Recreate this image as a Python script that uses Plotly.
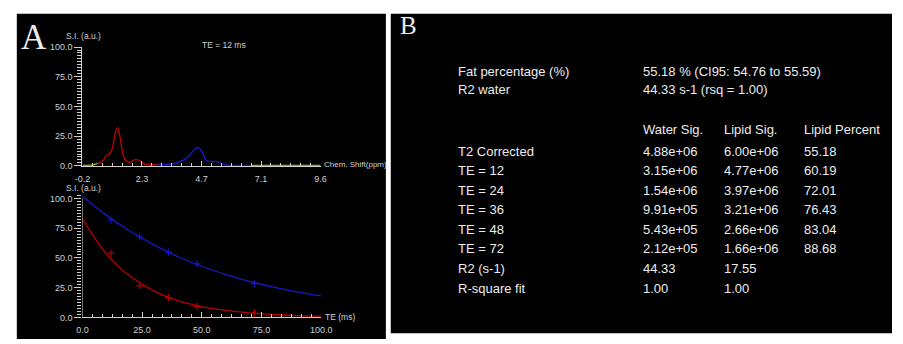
import plotly.graph_objects as go

W, H = 903, 344

# ---------------- Panel A (top): spectrum at TE = 12 ms ----------------
spec_left_ppm = [-0.2, 0.1, 0.3, 0.43]
spec_left_si = [0.3, 0.6, 1.2, 2.0]

spec_red_ppm = [0.43, 0.63, 0.79, 0.93, 1.04, 1.14, 1.24, 1.33, 1.44, 1.57, 1.74, 2.0, 2.18, 2.38, 2.6, 2.92]
spec_red_si = [2.0, 4.1, 8.7, 10.6, 15.5, 26.5, 32.4, 26.5, 12.8, 4.7, 3.0, 5.5, 4.1, 1.4, 1.1, 1.1]

spec_blue_ppm = [2.92, 3.3, 3.59, 4.0, 4.26, 4.46, 4.6, 4.73, 4.87, 5.07, 5.27, 5.47, 5.74, 6.2, 6.75]
spec_blue_si = [1.0, 1.2, 2.0, 5.2, 10.1, 14.7, 15.0, 11.4, 5.2, 3.6, 3.8, 2.5, 0.5, 0.4, 0.4]

spec_right_ppm = [6.75, 7.5, 8.5, 9.6]
spec_right_si = [0.4, 0.4, 0.4, 0.4]

spec_xticks = [-0.2, 2.25, 4.7, 7.15, 9.6]
spec_xticklabels = ["-0.2", "2.3", "4.7", "7.1", "9.6"]

# ---------------- Panel A (bottom): T2 decay ----------------
te_meas = [12, 24, 36, 48, 72]
blue_meas = [81.7, 67.6, 54.7, 45.0, 28.3]
red_meas = [54.0, 26.5, 16.6, 9.3, 3.6]

te_fit = [0, 10, 20, 30, 40, 50, 60, 70, 80, 90, 100]
blue_fit = [102.0, 86.0, 72.5, 61.0, 51.0, 43.0, 36.0, 30.3, 25.5, 21.5, 18.0]
red_fit = [83.0, 53.5, 34.5, 22.0, 14.0, 9.0, 5.8, 3.7, 2.4, 1.5, 1.0]

# ---------------- Panel B: text table ----------------
summary_labels = ["Fat percentage (%)", "R2 water"]
summary_values = ["55.18 % (CI95: 54.76 to 55.59)", "44.33 s-1 (rsq = 1.00)"]
table_header = ["Water Sig.", "Lipid Sig.", "Lipid Percent"]
row_labels = ["T2 Corrected", "TE = 12", "TE = 24", "TE = 36", "TE = 48", "TE = 72", "R2 (s-1)", "R-square fit"]
water_sig = ["4.88e+06", "3.15e+06", "1.54e+06", "9.91e+05", "5.43e+05", "2.12e+05", "44.33", "1.00"]
lipid_sig = ["6.00e+06", "4.77e+06", "3.97e+06", "3.21e+06", "2.66e+06", "1.66e+06", "17.55", "1.00"]
lipid_pct = ["55.18", "60.19", "72.01", "76.43", "83.04", "88.68", "", ""]

RED = "#b80000"
BLUE = "#1818c8"
YEL = "#a0a010"
AXC = "#d0d0d0"
TXT = "#ececec"
SANS = "Liberation Sans, Arial, sans-serif"
SERIF = "Liberation Serif, Times New Roman, serif"


def px(x):
    return x / W


def py(y):
    return 1 - y / H


fig = go.Figure()

for xs, ys, c in [(spec_left_ppm, spec_left_si, YEL), (spec_red_ppm, spec_red_si, RED),
                  (spec_blue_ppm, spec_blue_si, BLUE), (spec_right_ppm, spec_right_si, YEL)]:
    fig.add_trace(go.Scatter(x=xs, y=ys, mode="lines", line=dict(color=c, width=1.4, shape="spline", smoothing=0.8),
                             xaxis="x", yaxis="y", showlegend=False, hoverinfo="skip"))

fig.add_trace(go.Scatter(x=te_fit, y=blue_fit, mode="lines", line=dict(color=BLUE, width=1.3, shape="spline"),
                         xaxis="x2", yaxis="y2", showlegend=False))
fig.add_trace(go.Scatter(x=te_fit, y=red_fit, mode="lines", line=dict(color=RED, width=1.3, shape="spline"),
                         xaxis="x2", yaxis="y2", showlegend=False))
fig.add_trace(go.Scatter(x=te_meas, y=blue_meas, mode="markers",
                         marker=dict(symbol="cross-thin", size=5, line=dict(color=BLUE, width=1.2)),
                         xaxis="x2", yaxis="y2", showlegend=False, cliponaxis=False))
fig.add_trace(go.Scatter(x=te_meas, y=red_meas, mode="markers",
                         marker=dict(symbol="cross-thin", size=5, line=dict(color=RED, width=1.2)),
                         xaxis="x2", yaxis="y2", showlegend=False, cliponaxis=False))

tickfont = dict(family=SANS, size=9, color=AXC)

y2_top = 104
y2_px0, y2_px100 = 321.7, 199.3
y2_pxtop = y2_px0 - (y2_px0 - y2_px100) * y2_top / 100

common_y = dict(showgrid=False, zeroline=False, ticks="outside", ticklen=7, tickcolor=AXC, tickwidth=1,
                tickfont=tickfont, tickformat=".1f", tickmode="linear", tick0=0, dtick=25,
                minor=dict(ticks="outside", ticklen=4, tickcolor=AXC, dtick=2.5, tick0=0, showgrid=False),
                fixedrange=True)

fig.update_layout(
    width=W, height=H, autosize=False,
    margin=dict(l=0, r=0, t=0, b=0),
    paper_bgcolor="white", plot_bgcolor="rgba(0,0,0,0)",
    xaxis=dict(domain=[px(76), px(319.3)], range=[-0.2, 9.6], anchor="y",
               showline=True, linecolor=AXC, linewidth=1, showgrid=False, zeroline=False,
               tickmode="array", tickvals=spec_xticks, ticktext=spec_xticklabels,
               ticks="inside", ticklen=5, tickcolor=AXC, tickfont=tickfont, ticklabelstandoff=4,
               minor=dict(ticks="inside", ticklen=3, tickcolor=AXC, tickmode="linear", tick0=-0.2,
                          dtick=2.45 / 6, showgrid=False)),
    yaxis=dict(domain=[py(165.7), py(43.3)], range=[0, 100], anchor="x",
               showline=True, linecolor=AXC, linewidth=1, **common_y),
    xaxis2=dict(domain=[px(76), px(320)], range=[0, 100], anchor="y2",
                showline=True, linecolor=AXC, linewidth=1, showgrid=False, zeroline=False,
                tickmode="linear", tick0=0, dtick=25, tickformat=".1f",
                ticks="inside", ticklen=5, tickcolor=AXC, tickfont=tickfont, ticklabelstandoff=4,
                minor=dict(ticks="inside", ticklen=3, tickcolor=AXC, tickmode="linear", tick0=0,
                           dtick=25 / 6, showgrid=False)),
    yaxis2=dict(domain=[py(y2_px0), py(y2_pxtop)], range=[0, y2_top], anchor="x2",
                showline=False, **common_y),
)

shapes = [
    dict(type="rect", xref="paper", yref="paper", x0=px(9), x1=px(386), y0=py(344), y1=py(9),
         fillcolor="black", line=dict(width=0), layer="below"),
    dict(type="rect", xref="paper", yref="paper", x0=px(391), x1=px(903), y0=py(338), y1=py(9),
         fillcolor="black", line=dict(width=0), layer="below"),
    dict(type="line", xref="x2", yref="y2", x0=0, x1=0, y0=0, y1=100, line=dict(color=AXC, width=1)),
]
fig.update_layout(shapes=shapes)

ann = []


def add_text(x, y, text, size=13, color=TXT, family=SANS, xanchor="left"):
    ann.append(dict(xref="paper", yref="paper", x=px(x), y=py(y), text=text, showarrow=False,
                    xanchor=xanchor, yanchor="middle", font=dict(family=family, size=size, color=color)))


# Panel A texts
add_text(27, 33, "A", size=35, family=SERIF, xanchor="center")
add_text(57, 32, "S.I. (a.u.)", size=8.5, color=AXC)
add_text(196, 41, "TE = 12 ms", size=8.5, color=AXC)
add_text(320.5, 164.5, "Chem. Shift(ppm)", size=8, color=AXC)
add_text(57, 188, "S.I. (a.u.)", size=8.5, color=AXC)
add_text(322, 321, "TE (ms)", size=8.5, color=AXC)

# Panel B texts
add_text(409, 21, "B", size=25, family=SERIF, xanchor="center")
col_x = [457.5, 646.5, 729.5, 811.5]
summary_y = [68, 87]
for lab, val, yy in zip(summary_labels, summary_values, summary_y):
    add_text(col_x[0], yy, lab)
    add_text(col_x[1], yy, val)
for i, h in enumerate(table_header):
    add_text(col_x[1 + i], 128.5, h)
row_y0, row_dy = 150.5, 20.15
for i, lab in enumerate(row_labels):
    yy = row_y0 + i * row_dy
    add_text(col_x[0], yy, lab)
    add_text(col_x[1], yy, water_sig[i])
    add_text(col_x[2], yy, lipid_sig[i])
    if lipid_pct[i]:
        add_text(col_x[3], yy, lipid_pct[i])

fig.update_layout(annotations=ann)

fig.write_html("out.html", config={"displayModeBar": False, "staticPlot": True},
               post_script="document.body.style.margin='0';document.body.style.overflow='hidden';")
